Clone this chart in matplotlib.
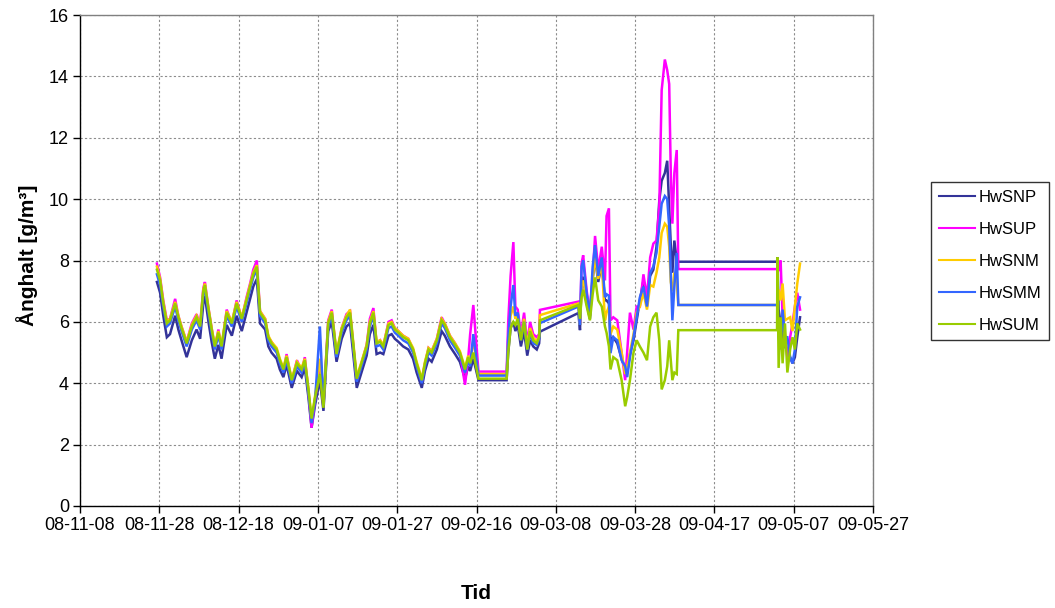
import numpy as np
import pandas as pd
import matplotlib
matplotlib.use("Agg")
import matplotlib.pyplot as plt
import matplotlib.dates as mdates

plt.rcParams['font.family'] = ['Liberation Sans', 'DejaVu Sans']

# ---- data -------------------------------------------------------------
start_date = "2008-11-08"
# time of each sample, in days after start_date
t_days = [
    19.4, 20.2, 21.0, 21.9, 22.7, 24.0, 24.8, 25.6, 26.9, 28.2,
    29.4, 30.3, 31.1, 31.5, 32.4, 33.2, 34.0, 34.9, 35.7, 37.0,
    38.3, 39.5, 40.8, 42.0, 42.9, 43.7, 44.6, 45.4, 46.7, 47.5,
    48.3, 49.6, 50.4, 51.3, 52.1, 53.4, 54.7, 55.9, 56.7, 57.6,
    58.4, 59.3, 60.5, 61.4, 62.6, 63.5, 64.7, 66.0, 67.2, 68.1,
    69.8, 71.0, 72.3, 73.1, 74.0, 74.8, 75.7, 76.5, 77.8, 78.6,
    79.4, 80.3, 81.5, 82.8, 84.0, 84.9, 86.2, 87.0, 87.9, 88.7,
    90.0, 91.2, 92.0, 93.3, 94.6, 95.8, 97.1, 97.9, 98.4, 99.2,
    100.5, 107.6,
    108.0, 108.6, 109.3, 109.8, 110.4, 111.2, 112.0, 112.8, 113.5, 114.3,
    115.2, 115.8, 116.0, 125.7, 126.1, 126.5, 126.9, 127.8, 128.6, 129.3,
    129.9, 130.7, 131.6, 132.4, 132.8, 133.4, 133.8, 134.5, 135.5, 136.6,
    137.5, 138.0, 138.7, 139.6, 140.4, 141.2, 142.1, 143.0, 143.8, 144.6,
    145.4, 146.1, 146.7, 147.5, 148.1, 148.6, 149.0, 149.4, 149.9, 150.5,
    150.9, 175.8, 175.9, 176.2, 176.7, 177.2, 177.8, 178.4, 179.1, 179.7,
    180.3, 180.9, 181.6,
]

hwsnp = [
    7.3, 6.95, 6.2, 5.5, 5.6, 6.2, 5.75, 5.4, 4.85, 5.4,
    5.75, 5.45, 6.6, 6.85, 6.0, 5.35, 4.8, 5.25, 4.8, 5.9,
    5.55, 6.2, 5.7, 6.3, 6.75, 7.15, 7.4, 5.95, 5.75, 5.2,
    5.0, 4.8, 4.45, 4.2, 4.6, 3.85, 4.4, 4.2, 4.5, 3.55,
    2.55, 3.3, 4.1, 3.1, 5.7, 6.0, 4.7, 5.45, 5.85, 5.95,
    3.85, 4.35, 4.9, 5.6, 5.9, 4.95, 5.0, 4.95, 5.55, 5.6,
    5.45, 5.35, 5.2, 5.1, 4.8, 4.35, 3.85, 4.4, 4.8, 4.7,
    5.1, 5.7, 5.55, 5.2, 4.95, 4.7, 4.15, 4.55, 4.4, 4.8,
    4.1, 4.1,
    5.0, 5.8, 6.0, 5.7, 5.9, 5.2, 5.7, 4.9, 5.4, 5.2,
    5.1, 5.3, 5.68, 6.29, 5.73, 7.3, 7.47, 6.6, 6.1, 7.4,
    8.1, 7.3, 7.9, 6.7, 6.7, 6.6, 5.4, 5.5, 5.3, 4.8,
    4.45, 4.35, 4.95, 5.4, 6.05, 6.7, 7.35, 6.6, 7.5, 7.7,
    8.45, 9.95, 10.6, 10.85, 11.25, 9.75, 8.5, 7.6, 8.65, 8.0,
    7.96, 7.96, 8.1, 6.4, 5.95, 5.5, 5.2, 5.05, 4.85, 4.65,
    4.85, 5.5, 6.15,
]

hwsup = [
    7.9, 7.45, 6.7, 6.05, 6.1, 6.75, 6.2, 5.85, 5.35, 5.95,
    6.25, 5.9, 7.1, 7.3, 6.45, 5.8, 5.15, 5.75, 5.15, 6.4,
    5.95, 6.7, 6.1, 6.8, 7.25, 7.7, 8.0, 6.35, 6.1, 5.5,
    5.35, 5.05, 4.7, 4.4, 4.95, 4.05, 4.75, 4.4, 4.85, 3.75,
    2.55, 3.5, 4.5, 3.3, 6.05, 6.4, 4.9, 5.8, 6.25, 6.35,
    4.1, 4.65, 5.25, 6.1, 6.45, 5.3, 5.4, 5.2, 6.0, 6.05,
    5.8, 5.7, 5.55, 5.45, 5.1, 4.6, 4.05, 4.65, 5.15, 5.05,
    5.45, 6.15, 5.95, 5.55, 5.3, 5.0, 3.95, 4.8, 5.6, 6.55,
    4.38, 4.38,
    6.0, 7.5, 8.6, 6.5, 6.4, 5.6, 6.3, 5.3, 6.0, 5.6,
    5.5, 5.6, 6.39, 6.66, 5.96, 7.9, 8.17, 7.0, 6.3, 7.5,
    8.8, 7.7, 8.45, 7.35, 9.45, 9.7, 6.05, 6.15, 6.05, 5.0,
    4.1, 5.0, 6.3, 5.75, 6.5, 6.5, 7.55, 6.8, 8.1, 8.55,
    8.65, 9.75, 13.55, 14.55, 14.2, 13.75, 10.85, 9.2, 10.85, 11.6,
    7.72, 7.72, 7.72, 7.7, 8.0, 6.15, 5.5, 4.85, 5.5, 5.95,
    6.5, 6.95, 6.4,
]

hwsnm = [
    7.8, 7.4, 6.65, 6.0, 6.1, 6.65, 6.2, 5.85, 5.35, 5.9,
    6.2, 5.9, 7.05, 7.25, 6.45, 5.8, 5.25, 5.7, 5.25, 6.35,
    6.0, 6.65, 6.15, 6.75, 7.2, 7.6, 7.85, 6.35, 6.1, 5.55,
    5.35, 5.15, 4.8, 4.5, 4.9, 4.15, 4.7, 4.5, 4.8, 3.85,
    2.8, 3.6, 4.8, 3.4, 6.0, 6.35, 5.0, 5.8, 6.2, 6.4,
    4.2, 4.7, 5.25, 6.0, 6.35, 5.35, 5.4, 5.25, 5.95, 6.0,
    5.8, 5.7, 5.55, 5.45, 5.15, 4.7, 4.15, 4.7, 5.15, 5.05,
    5.45, 6.1, 5.95, 5.55, 5.3, 5.05, 4.5, 4.9, 4.7, 5.4,
    4.3, 4.3,
    5.3, 6.2, 6.5, 6.1, 6.2, 5.5, 6.1, 5.2, 5.8, 5.5,
    5.35, 5.55, 6.22, 6.6, 5.9, 7.2, 7.35, 6.8, 6.2, 7.4,
    8.1, 7.4, 7.9, 6.05, 6.3, 6.5, 5.6, 5.85, 5.75, 5.0,
    4.3, 4.55, 5.0, 5.6, 6.3, 6.5, 6.95, 6.4, 7.2, 7.15,
    7.6, 8.1, 8.9, 9.2, 9.1, 8.45, 7.3, 7.0, 7.6, 7.3,
    6.55, 6.55, 6.55, 7.05, 6.7, 7.25, 6.05, 6.1, 6.15, 5.7,
    6.5, 7.25, 7.9,
]

hwsmm = [
    7.55, 7.2, 6.5, 5.85, 5.95, 6.5, 6.05, 5.7, 5.2, 5.75,
    6.05, 5.75, 6.9, 7.1, 6.3, 5.65, 5.1, 5.55, 5.1, 6.2,
    5.85, 6.5, 6.0, 6.6, 7.05, 7.45, 7.7, 6.2, 5.95, 5.4,
    5.2, 5.0, 4.65, 4.35, 4.75, 4.0, 4.55, 4.35, 4.65, 3.7,
    2.7, 3.45, 5.85, 3.3, 5.85, 6.2, 4.85, 5.65, 6.05, 6.2,
    4.05, 4.55, 5.1, 5.85, 6.2, 5.2, 5.25, 5.1, 5.8, 5.85,
    5.65, 5.55, 5.4, 5.3, 5.0, 4.55, 4.0, 4.55, 5.0, 4.9,
    5.3, 5.95, 5.8, 5.4, 5.15, 4.9, 4.35, 4.75, 4.55, 5.6,
    4.25, 4.25,
    5.5, 6.5, 7.2, 6.2, 6.3, 5.4, 6.0, 5.1, 5.6, 5.3,
    5.25, 5.45, 5.96, 6.5, 5.9, 7.8, 8.0, 6.9, 6.2, 7.8,
    8.5, 7.5, 8.1, 6.8, 6.9, 6.85, 4.98, 5.5, 5.4, 4.75,
    4.55, 4.2, 4.85, 5.5, 6.15, 6.8, 7.15, 6.5, 7.6, 7.8,
    8.25, 9.1, 9.85, 10.1, 10.0, 9.1, 7.6, 6.05, 7.15, 8.25,
    6.55, 6.55, 6.5, 5.5, 5.1, 6.4, 5.5, 5.5, 4.85, 4.65,
    5.1, 6.5, 6.8,
]

hwsum = [
    7.7, 7.35, 6.6, 5.95, 6.05, 6.6, 6.15, 5.8, 5.3, 5.85,
    6.15, 5.85, 7.0, 7.2, 6.4, 5.75, 5.2, 5.65, 5.2, 6.3,
    5.95, 6.6, 6.1, 6.7, 7.15, 7.55, 7.8, 6.3, 6.05, 5.5,
    5.3, 5.1, 4.75, 4.45, 4.85, 4.1, 4.65, 4.45, 4.75, 3.8,
    2.85, 3.55, 4.3, 3.2, 5.95, 6.3, 4.95, 5.75, 6.15, 6.3,
    4.15, 4.65, 5.2, 5.95, 6.3, 5.3, 5.35, 5.2, 5.9, 5.95,
    5.75, 5.65, 5.5, 5.4, 5.1, 4.65, 4.1, 4.65, 5.1, 5.0,
    5.4, 6.05, 5.9, 5.5, 5.25, 5.0, 4.45, 4.85, 4.65, 5.0,
    4.15, 4.15,
    5.0, 5.8, 6.0, 5.9, 6.1, 5.4, 6.0, 5.1, 5.7, 5.4,
    5.3, 5.5, 6.05, 6.55, 6.1, 6.8, 7.05, 6.5, 6.05, 6.9,
    7.45, 6.7, 6.5, 5.85, 5.65, 5.2, 4.45, 4.85, 4.75, 4.1,
    3.25, 3.55, 4.1, 5.0, 5.4, 5.2, 5.0, 4.75, 5.85, 6.15,
    6.3, 5.4, 3.8, 4.1, 4.55, 5.4, 4.75, 4.1, 4.35, 4.3,
    5.73, 5.73, 8.1, 4.5, 6.15, 4.65, 5.95, 4.35, 5.1, 5.5,
    5.1, 5.95, 5.75,
]

series_names = ["HwSNP", "HwSUP", "HwSNM", "HwSMM", "HwSUM"]
series_values = [hwsnp, hwsup, hwsnm, hwsmm, hwsum]
series_colors = ["#333399", "#FF00FF", "#FFCC00", "#3366FF", "#99CC00"]

x_tick_labels = ["08-11-08", "08-11-28", "08-12-18", "09-01-07", "09-01-27",
                 "09-02-16", "09-03-08", "09-03-28", "09-04-17", "09-05-07",
                 "09-05-27"]
y_ticks = [0, 2, 4, 6, 8, 10, 12, 14, 16]

# ---- plot -------------------------------------------------------------
fig = plt.figure(figsize=(10.55, 6.08), dpi=100)
ax = fig.add_axes([80 / 1055, 1 - 506 / 608, 793 / 1055, 491 / 608])

t0 = mdates.date2num(pd.Timestamp(start_date))
x = t0 + np.asarray(t_days)

for name, vals, col in zip(series_names, series_values, series_colors):
    ax.plot(x, vals, color=col, lw=1.8, label=name, solid_joinstyle="miter")

tick_pos = [mdates.date2num(pd.to_datetime(s, format="%y-%m-%d")) for s in x_tick_labels]
ax.set_xticks(tick_pos)
ax.set_xticklabels(x_tick_labels, fontsize=13)
ax.set_xlim(tick_pos[0], tick_pos[-1])
ax.set_yticks(y_ticks)
ax.set_yticklabels([str(v) for v in y_ticks], fontsize=13)
ax.set_ylim(0, 16)

ax.grid(True, color="#8c8c8c", linestyle=(0, (2, 2)), linewidth=0.8)
ax.set_axisbelow(True)
ax.tick_params(direction="out", length=5, width=1, color="black", pad=3)
for side in ["left", "bottom"]:
    ax.spines[side].set_color("black")
    ax.spines[side].set_linewidth(1.0)
for side in ["top", "right"]:
    ax.spines[side].set_color("#808080")
    ax.spines[side].set_linewidth(1.0)

ax.set_ylabel("Ånghalt [g/m³]", fontsize=15, fontweight="bold")
ax.yaxis.set_label_coords(-0.053, 0.51)
ax.set_xlabel("Tid", fontsize=15, fontweight="bold")
ax.xaxis.set_label_coords(0.5, -0.158)

leg = fig.legend(loc="upper left", bbox_to_anchor=(931 / 1055, 1 - 182 / 608),
                 bbox_transform=fig.transFigure, borderaxespad=0,
                 fontsize=12, frameon=True, fancybox=False, shadow=False,
                 handlelength=2.2, handletextpad=0.2, labelspacing=1.02,
                 borderpad=0.45)
leg.get_frame().set_edgecolor("#333333")
leg.get_frame().set_linewidth(1.0)
leg.get_frame().set_alpha(1)
for line in leg.get_lines():
    line.set_linewidth(1.5)

fig.savefig("out.png", dpi=100)
